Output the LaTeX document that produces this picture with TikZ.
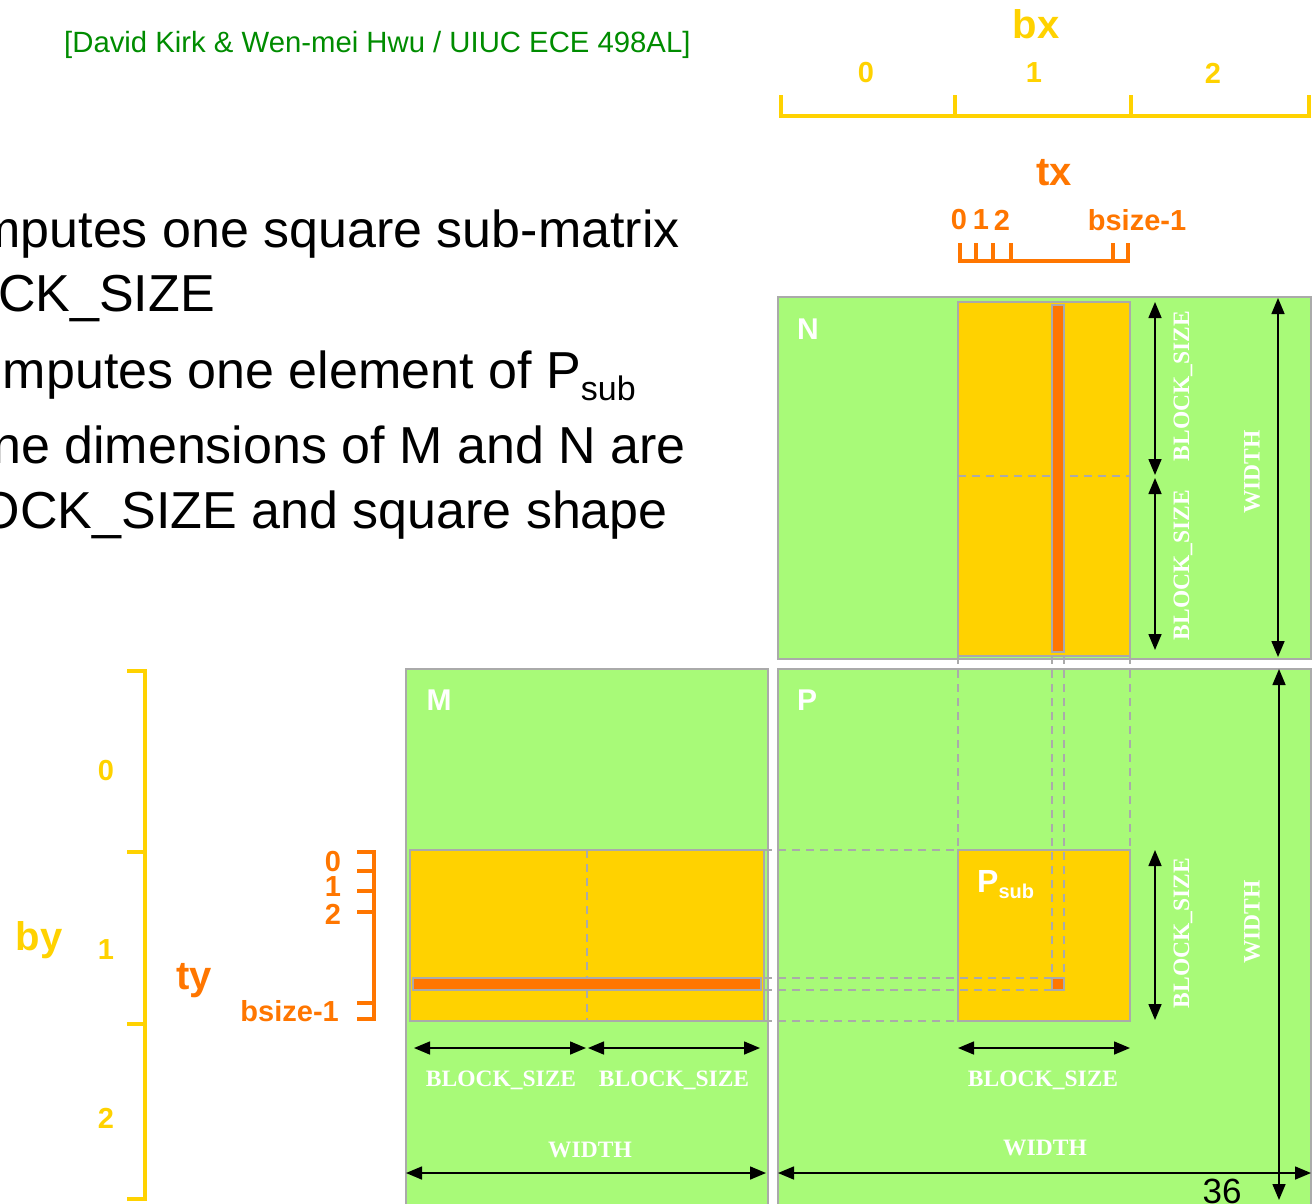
\documentclass[tikz,border=0pt]{standalone}
\usepackage{fontspec}
\setmainfont{Liberation Sans}
\newfontfamily\timesfont{Liberation Serif}
\usetikzlibrary{arrows.meta}

\definecolor{matgreen}{RGB}{168,250,120}
\definecolor{tileyellow}{RGB}{255,210,0}
\definecolor{throrange}{RGB}{255,118,0}
\definecolor{edgegray}{RGB}{170,170,170}
\definecolor{creditgreen}{RGB}{0,140,0}

\tikzset{
  matrixbox/.style={fill=matgreen, draw=edgegray, line width=2pt},
  tilebox/.style={fill=tileyellow, draw=edgegray, line width=2pt},
  rowbox/.style={fill=throrange, draw=edgegray, line width=2pt},
  guide/.style={draw=edgegray, line width=2pt, dash pattern=on 8pt off 6pt},
  dimarrow/.style={{Triangle[length=16pt,width=13pt]}-{Triangle[length=16pt,width=13pt]}, line width=1.6pt},
  dimtext/.style={text=white, inner sep=0pt, font=\timesfont\bfseries\fontsize{23.5}{24}\selectfont},
  matname/.style={text=white, inner sep=0pt, font=\bfseries\fontsize{30}{30}\selectfont},
  bullettext/.style={anchor=base east, inner sep=0pt, font=\fontsize{52}{60}\selectfont},
  blockidx/.style={draw=tileyellow, line width=4pt},
  threadidx/.style={draw=throrange, line width=4pt},
  blocklabel/.style={text=tileyellow, inner sep=0pt, font=\bfseries\fontsize{29}{30}\selectfont},
  threadlabel/.style={text=throrange, inner sep=0pt, font=\bfseries\fontsize{29}{30}\selectfont},
}

\begin{document}
\begin{tikzpicture}[x=1pt, y=-1pt]
  \useasboundingbox (0,0) rectangle (1316,1203);

  % Credit and slide text (cut on the left)
  \node[text=creditgreen, anchor=west, inner sep=0pt, font=\fontsize{29.3}{30}\selectfont] (credit) at (64,45) {[David Kirk \& Wen-mei Hwu / UIUC ECE 498AL]};
  \node[bullettext] (line1) at (680,247) {mputes one square sub-matrix};
  \node[bullettext] (line2) at (215,311) {OCK\_SIZE};
  \node[bullettext] (line3) at (636,388) {mputes one element of P\raisebox{-12pt}{\fontsize{34}{34}\selectfont sub}};
  \node[bullettext] (line4) at (686,463) {ne dimensions of M and N are};
  \node[bullettext] (line5) at (668,528) {OCK\_SIZE and square shape};

  % Matrices
  \draw[matrixbox] (778,297) rectangle (1311,659);
  \draw[matrixbox] (778,669) rectangle (1311,1210);
  \draw[matrixbox] (406,669) rectangle (768,1210);
  \node[matname] (nameN) at (808,329) {N};
  \node[matname] (nameM) at (439,700) {M};
  \node[matname] (nameP) at (807,700) {P};

  % Tiles
  \draw[tilebox] (958,302) rectangle (1130,656);
  \draw[tilebox] (958,850) rectangle (1130,1021);
  \draw[tilebox] (410,850) rectangle (764,1021);
  \draw[guide] (958,476) -- (1130,476);
  \draw[guide] (587,850) -- (587,1021);
  \node[text=white, anchor=base west, inner sep=0pt, font=\bfseries\fontsize{32}{32}\selectfont] (Psub) at (977,892) {P\raisebox{-6pt}{\fontsize{20}{20}\selectfont sub}};

  % Row of M, column of N, element of P
  \draw[rowbox] (1052,305) rectangle (1064,652);
  \draw[rowbox] (413,978) rectangle (761,990);
  \draw[rowbox] (1052,978) rectangle (1064,990);

  % Guide lines
  \foreach \x in {958,1130} \draw[guide] (\x,656) -- (\x,850);
  \foreach \x in {1052,1064} \draw[guide] (\x,656) -- (\x,978);
  \foreach \y in {850,1021} \draw[guide] (764,\y) -- (958,\y);
  \foreach \y in {978,990} \draw[guide] (764,\y) -- (1052,\y);

  % Dimension arrows on N
  \coordinate (nb1) at (1155,302);
  \coordinate (nb2) at (1155,475);
  \coordinate (nb3) at (1155,478);
  \coordinate (nb4) at (1155,650);
  \coordinate (nw1) at (1278,298);
  \coordinate (nw2) at (1278,657);
  \draw[dimarrow] (nb1) -- (nb2);
  \draw[dimarrow] (nb3) -- (nb4);
  \draw[dimarrow] (nw1) -- (nw2);
  \node[dimtext, rotate=90] (nbs1) at (1183,386) {BLOCK\_SIZE};
  \node[dimtext, rotate=90] (nbs2) at (1183,565) {BLOCK\_SIZE};
  \node[dimtext, rotate=90] (nwd) at (1252,472) {WIDTH};

  % Dimension arrows on P
  \coordinate (pb1) at (1155,850);
  \coordinate (pb2) at (1155,1020);
  \coordinate (pw1) at (1279,669);
  \coordinate (pw2) at (1279,1200);
  \coordinate (ph1) at (958,1048);
  \coordinate (ph2) at (1130,1048);
  \coordinate (pv1) at (778,1173);
  \coordinate (pv2) at (1311,1173);
  \draw[dimarrow] (pb1) -- (pb2);
  \draw[dimarrow] (pw1) -- (pw2);
  \draw[dimarrow] (ph1) -- (ph2);
  \draw[dimarrow] (pv1) -- (pv2);
  \node[dimtext, rotate=90] (pbs) at (1183,933) {BLOCK\_SIZE};
  \node[dimtext, rotate=90] (pwd) at (1252,922) {WIDTH};
  \node[dimtext] (pbsh) at (1043,1080) {BLOCK\_SIZE};
  \node[dimtext] (pwdh) at (1045,1148) {WIDTH};

  % Dimension arrows on M
  \coordinate (mb1) at (414,1048);
  \coordinate (mb2) at (586,1048);
  \coordinate (mb3) at (588,1048);
  \coordinate (mb4) at (760,1048);
  \coordinate (mw1) at (406,1173);
  \coordinate (mw2) at (766,1173);
  \draw[dimarrow] (mb1) -- (mb2);
  \draw[dimarrow] (mb3) -- (mb4);
  \draw[dimarrow] (mw1) -- (mw2);
  \node[dimtext] (mbs1) at (501,1080) {BLOCK\_SIZE};
  \node[dimtext] (mbs2) at (674,1080) {BLOCK\_SIZE};
  \node[dimtext] (mwd) at (590,1150) {WIDTH};

  % Block index bx
  \draw[blockidx] (779,116) -- (1311,116);
  \foreach \x in {781,955,1131,1309} \draw[blockidx] (\x,95) -- (\x,116);
  \node[text=tileyellow, inner sep=0pt, font=\bfseries\fontsize{40}{40}\selectfont] (bx) at (1036,24) {bx};
  \foreach \x/\n in {866/0,1034/1,1213/2} \node[blocklabel] (bx\n) at (\x,73) {\n};

  % Thread index tx
  \draw[threadidx] (958,261) -- (1130,261);
  \foreach \x in {960,976,993,1011,1113,1128} \draw[threadidx] (\x,243) -- (\x,261);
  \node[text=throrange, inner sep=0pt, font=\bfseries\fontsize{40}{40}\selectfont] (tx) at (1054,173) {tx};
  \foreach \x/\n in {959/0,981/1,1002/2} \node[threadlabel] (tx\n) at (\x,220) {\n};
  \node[threadlabel] (txlast) at (1137,220) {bsize-1};

  % Block index by
  \draw[blockidx] (145,669) -- (145,1201);
  \foreach \y in {671,852,1024,1199} \draw[blockidx] (127,\y) -- (145,\y);
  \node[text=tileyellow, inner sep=0pt, font=\bfseries\fontsize{40}{40}\selectfont] (by) at (39,940) {by};
  \foreach \y/\n in {771/0,950/1,1118/2} \node[blocklabel] (by\n) at (106,\y) {\n};

  % Thread index ty
  \draw[threadidx] (374,850) -- (374,1021);
  \foreach \y in {852,871,891,912,1003,1019} \draw[threadidx] (357,\y) -- (374,\y);
  \node[text=throrange, inner sep=0pt, font=\bfseries\fontsize{40}{40}\selectfont] (ty) at (194,981) {ty};
  \foreach \y/\n in {861/0,887/1,914/2} \node[threadlabel] (ty\n) at (333,\y) {\n};
  \node[threadlabel, anchor=east] (tylast) at (339,1011) {bsize-1};

  % Slide number
  \node[anchor=base, inner sep=0pt, font=\fontsize{35}{35}\selectfont] (slideno) at (1222,1203) {36};
\end{tikzpicture}
\end{document}
